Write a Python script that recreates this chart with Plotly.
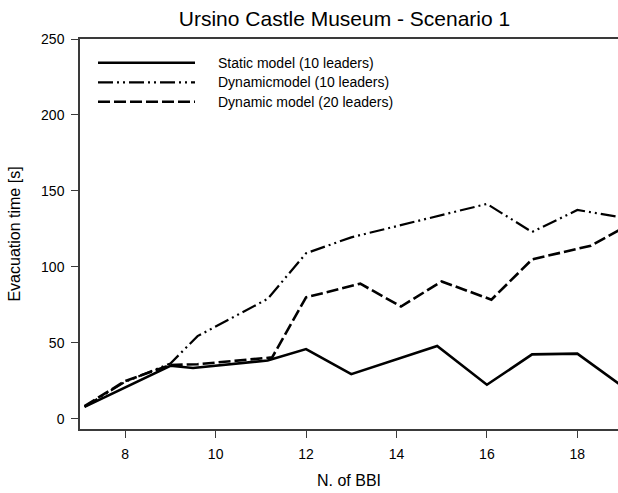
import plotly.graph_objects as go

# N. of BBI (x) and evacuation time in seconds (y)
static_x = [7.1, 9.0, 9.5, 11.15, 12.0, 13.0, 14.9, 16.0, 17.0, 18.0, 19.0]
static_y = [8, 35, 33.5, 38.5, 46, 29.5, 48, 22.5, 42.5, 43, 21.5]

dyn10_x = [7.1, 8.0, 9.0, 9.6, 11.15, 12.0, 13.0, 14.0, 15.0, 16.0, 17.0, 18.0, 19.0]
dyn10_y = [8, 24.5, 36.5, 54.5, 79, 109, 119.5, 127, 134, 141.5, 123, 137.5, 132.5]

dyn20_x = [7.1, 8.0, 9.0, 9.6, 11.25, 12.0, 13.2, 14.1, 15.0, 16.1, 17.0, 18.3, 19.0]
dyn20_y = [8.5, 25, 35.5, 36, 40.5, 80, 89, 74, 90.5, 78.5, 105, 114, 125.5]

series_names = [
    "Static model (10 leaders)",
    "Dynamicmodel (10 leaders)",
    "Dynamic model (20 leaders)",
]

x_ticks = [8, 10, 12, 14, 16, 18]
y_ticks = [0, 50, 100, 150, 200, 250]

FONT = "Arial, Liberation Sans, sans-serif"
AXIS_COLOR = "#3a3a3a"
DASHDOTDOT = "15px,4px,2px,4px,2px,4px"
DASHED = "12px,4px"

styles = [
    dict(color="black", width=2.6, dash="solid"),
    dict(color="black", width=2.2, dash=DASHDOTDOT),
    dict(color="black", width=2.6, dash=DASHED),
]

W, H = 618, 493
M_L, M_R, M_T, M_B = 80, 0, 39, 64
plot_w = W - M_L - M_R
plot_h = H - M_T - M_B

fig = go.Figure()
for xs, ys, name, st in zip(
    [static_x, dyn10_x, dyn20_x], [static_y, dyn10_y, dyn20_y], series_names, styles
):
    fig.add_trace(go.Scatter(x=xs, y=ys, mode="lines", name=name, line=st,
                             showlegend=False))

# hand-made legend (long line samples like the original)
legend_rows_px = [62.7, 82.3, 101.7]
for name, st, row in zip(series_names, styles, legend_rows_px):
    yp = (H - M_B - row) / plot_h
    fig.add_shape(type="line", xref="paper", yref="paper",
                  x0=(98 - M_L) / plot_w, x1=(195 - M_L) / plot_w, y0=yp, y1=yp,
                  line=st)
    fig.add_annotation(xref="paper", yref="paper", x=(216 - M_L) / plot_w, y=yp,
                       text=name, showarrow=False, xanchor="left", yanchor="middle",
                       font=dict(family=FONT, size=14, color="black"))

fig.update_layout(
    width=W,
    height=H,
    margin=dict(l=M_L, r=M_R, t=M_T, b=M_B),
    paper_bgcolor="white",
    plot_bgcolor="white",
    font=dict(family=FONT, color="black"),
    title=dict(text="Ursino Castle Museum - Scenario 1", x=344.5 / W, xanchor="center",
               y=1 - 19 / H, yanchor="middle", yref="container",
               font=dict(family=FONT, size=21, color="black")),
    xaxis=dict(
        range=[7.0, 18.9], tickvals=x_ticks, ticks="outside", ticklen=7,
        tickcolor=AXIS_COLOR, tickwidth=1.3, showline=True, linecolor=AXIS_COLOR,
        linewidth=1.5, mirror=True, showgrid=False, zeroline=False, automargin=False,
        tickfont=dict(family=FONT, size=14, color="black"), ticklabelstandoff=4,
        title=dict(text="N. of BBI", font=dict(family=FONT, size=16, color="black"),
                   standoff=14),
    ),
    yaxis=dict(
        range=[-6.6, 250], tickvals=y_ticks, ticks="outside", ticklen=7,
        tickcolor=AXIS_COLOR, tickwidth=1.3, showline=True, linecolor=AXIS_COLOR,
        linewidth=1.5, mirror=False, showgrid=False, zeroline=False, automargin=False,
        tickfont=dict(family=FONT, size=14, color="black"), ticklabelstandoff=4,
        title=dict(text="Evacuation time [s]",
                   font=dict(family=FONT, size=16, color="black"), standoff=16),
    ),
)

# drop the browser's default body margin so the figure sits at the page corner
fig.write_html(
    "out.html",
    config={"displayModeBar": False},
    post_script="document.body.style.margin='0';document.body.style.overflow='hidden';",
)
